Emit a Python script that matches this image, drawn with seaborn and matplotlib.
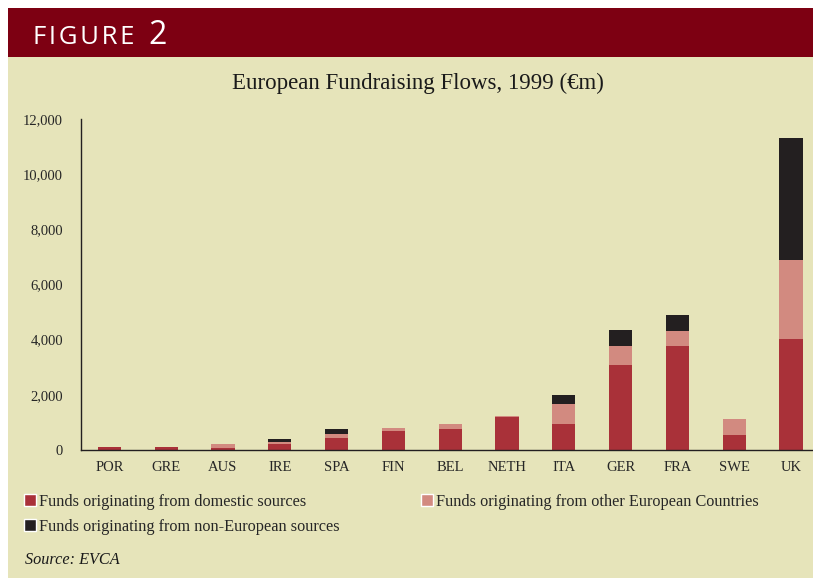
import numpy as np
import pandas as pd
import seaborn as sns
import matplotlib.pyplot as plt
from matplotlib.patches import Rectangle, Patch

countries = ["POR", "GRE", "AUS", "IRE", "SPA", "FIN", "BEL", "NETH", "ITA", "GER", "FRA", "SWE", "UK"]
domestic = [120, 120, 80, 210, 430, 690, 760, 1210, 950, 3090, 3780, 560, 4040]
other_european = [0, 0, 120, 70, 150, 110, 180, 20, 730, 690, 550, 580, 2840]
non_european = [0, 0, 0, 110, 180, 0, 0, 0, 330, 580, 580, 0, 4420]

labels = ["Funds originating from domestic sources",
          "Funds originating from other European Countries",
          "Funds originating from non-European sources"]

BEIGE = "#E6E4BA"
HEADER = "#7D0012"
C_DOM = "#A93139"
C_EUR = "#D28A80"
C_NON = "#231F20"

W, H = 813, 578

df = pd.DataFrame({"country": countries, "dom": domestic,
                   "eur": other_european, "non": non_european})
df["dom_eur"] = df["dom"] + df["eur"]
df["total"] = df["dom_eur"] + df["non"]

sns.set_style("white")
plt.rcParams["font.family"] = ["Liberation Serif", "DejaVu Serif"]

fig = plt.figure(figsize=(W / 100, H / 100), dpi=100, facecolor="white")

# panel + header band
fig.add_artist(Rectangle((8 / W, 0), 1 - 8 / W, 1 - 8 / H, transform=fig.transFigure,
                         facecolor=BEIGE, edgecolor="none", zorder=0))
fig.add_artist(Rectangle((8 / W, 1 - 57 / H), 1 - 8 / W, 49 / H, transform=fig.transFigure,
                         facecolor=HEADER, edgecolor="none", zorder=0))
hs = "\u200a"
fig.text(33 / W, 1 - 44 / H, hs.join("FIGURE"), color="white", fontsize=18.5,
         family=["Open Sans", "DejaVu Sans"], va="baseline")
fig.text(148 / W, 1 - 44 / H, "2", color="white", fontsize=23,
         family=["Open Sans", "DejaVu Sans"], va="baseline")

fig.text(418 / W, 1 - 83 / H, "European Fundraising Flows, 1999 (\u20acm)",
         ha="center", va="center", fontsize=16.5, color="#1a1a1a")

ax = fig.add_axes([81 / W, 1 - 450 / H, (812 - 81) / W, (450 - 119) / H])
ax.set_facecolor("none")

bw = 0.41
for col, c in [("total", C_NON), ("dom_eur", C_EUR), ("dom", C_DOM)]:
    sns.barplot(data=df, x="country", y=col, color=c, width=bw,
                saturation=1, ax=ax, errorbar=None, linewidth=0)

ax.set_ylim(0, 12000)
ax.set_xlim(-0.5, -0.5 + (812 - 81) / 56.8)
ax.set_yticks(np.arange(0, 12001, 2000))
ax.set_yticklabels([f"{v:,}" for v in range(0, 12001, 2000)], fontsize=10.5)
ax.set_xticks(range(len(countries)))
ax.set_xticklabels(countries, fontsize=10.5)
ax.set_xticks(np.arange(0.5, len(countries) - 0.5, 1), minor=True)
ax.tick_params(axis="x", which="major", length=0, pad=8)
ax.tick_params(axis="x", which="minor", length=4, width=1, color="#231F20", direction="out")
ax.tick_params(axis="y", length=4, width=1, color="#231F20", direction="out", pad=9)
ax.set_xlabel("")
ax.set_ylabel("")
sns.despine(ax=ax)
for s in ["left", "bottom"]:
    ax.spines[s].set_color("#231F20")
    ax.spines[s].set_linewidth(1)

handles = [Patch(facecolor=C_DOM, label=labels[0]),
           Patch(facecolor=C_NON, label=labels[2]),
           Patch(facecolor=C_EUR, label=labels[1])]
fig.legend(handles=handles, ncol=2, loc="upper left",
           bbox_to_anchor=(24 / W, 1 - 494 / H), frameon=False, fontsize=11.7,
           handlelength=0.74, handleheight=0.74, handletextpad=0.2,
           columnspacing=5.0, labelspacing=0.55, borderaxespad=0, borderpad=0)

fig.text(25 / W, 1 - 560 / H, "Source: EVCA", fontsize=11.7, style="italic",
         va="center", color="#1a1a1a")

fig.savefig("out.png", dpi=100, facecolor="white")
